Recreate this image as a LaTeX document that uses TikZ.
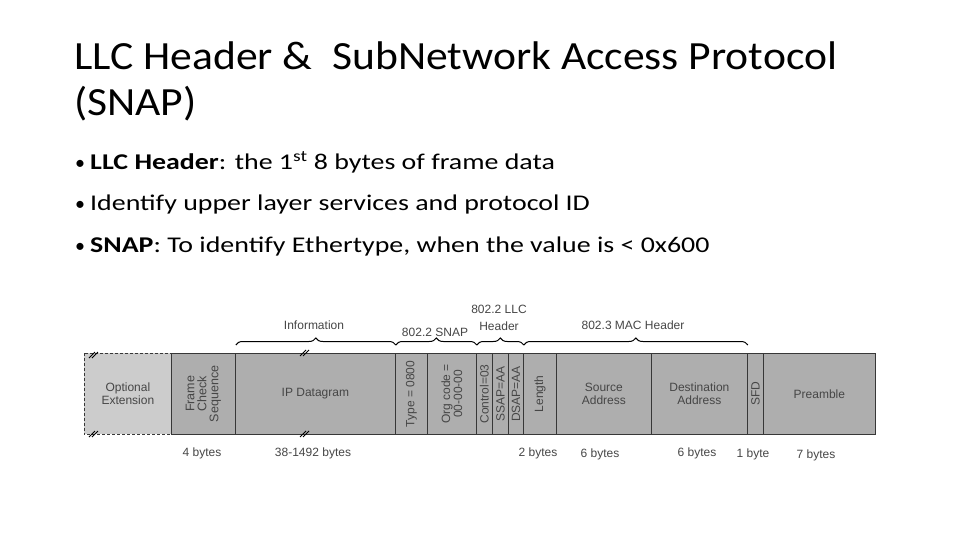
\documentclass[tikz,border=0pt]{standalone}
\usepackage{fontspec}
\setmainfont{Carlito}
\newfontfamily\titlefont[FakeStretch=1.09]{Carlito}
\newfontfamily\bodyfont[FakeStretch=1.24]{Carlito}
\newfontfamily\arialf{Liberation Sans}
\newcommand{\mybul}{\makebox[15pt][l]{\normalfont\fontsize{20}{20}\selectfont•}}
\usetikzlibrary{decorations.pathreplacing}
\definecolor{cellfill}{RGB}{174,174,174}
\definecolor{optfill}{RGB}{204,204,204}
\definecolor{dtext}{RGB}{70,70,70}
\definecolor{cline}{RGB}{55,55,55}
\tikzset{
  cell/.style={draw=cline, line width=0.8pt, fill=cellfill, minimum height=81pt, inner sep=0pt, anchor=north west, text=dtext, font=\arialf\fontsize{12}{12.5}\selectfont, align=center},
  optcell/.style={cell, fill=optfill, draw=none},
  rot/.style={rotate=90},
  dlabel/.style={text=dtext, font=\arialf\fontsize{12}{13}\selectfont, align=center, inner sep=0pt},
  bytelabel/.style={dlabel, anchor=base},
  toplabel/.style={dlabel, anchor=base, font=\arialf\fontsize{12}{17}\selectfont},
  bracemark/.style={draw=black, line width=1pt, decorate, decoration={brace, amplitude=7pt}},
  brk/.style={draw=black, line width=0.8pt},
}
\begin{document}
\begin{tikzpicture}[x=1pt,y=-1pt]
\useasboundingbox[fill=white] (0,0) rectangle (960,540);
% title
\node[anchor=base west, inner sep=0pt, align=left, font=\titlefont\fontsize{40}{46}\selectfont] (title) at (74,116)
  {LLC Header \&\ \ SubNetwork Access Protocol\\(SNAP)};
% bullets
\node[anchor=base west, inner sep=0pt, align=left, font=\bodyfont\fontsize{22.5}{41.5}\selectfont] (body) at (75,252)
  {\mybul\textbf{LLC Header}: the 1\textsuperscript{st} 8 bytes of frame data\\
   \mybul Identify upper layer services and protocol ID\\
   \mybul\textbf{SNAP}: To identify Ethertype, when the value is < 0x600};
% cells
\node[optcell, minimum width=87pt] (opt) at (84,353) {Optional\\Extension};
\node[cell, minimum width=64pt] (fcs) at (171,353) {};
\node[dlabel, rot, font=\arialf\fontsize{12.5}{12}\selectfont] at (fcs.center) {Frame\\Check\\Sequence};
\node[cell, minimum width=160pt] (ip) at (235,353) {IP Datagram};
\node[cell, minimum width=32pt] (type) at (395,353) {};
\node[dlabel, rot] at (type.center) {Type = 0800};
\node[cell, minimum width=49pt] (org) at (427,353) {};
\node[dlabel, rot, font=\arialf\fontsize{12}{12}\selectfont] at (org.center) {Org code =\\00-00-00};
\node[cell, minimum width=16pt] (ctrl) at (476,353) {};
\node[dlabel, rot] at (ctrl.center) {Control=03};
\node[cell, minimum width=16pt] (ssap) at (492,353) {};
\node[dlabel, rot] at (ssap.center) {SSAP=AA};
\node[cell, minimum width=15pt] (dsap) at (508,353) {};
\node[dlabel, rot] at (dsap.center) {DSAP=AA};
\node[cell, minimum width=33pt] (len) at (523,353) {};
\node[dlabel, rot] at (len.center) {Length};
\node[cell, minimum width=95pt] (src) at (556,353) {Source\\Address};
\node[cell, minimum width=96pt] (dst) at (651,353) {Destination\\Address};
\node[cell, minimum width=16pt] (sfd) at (747,353) {};
\node[dlabel, rot] at (sfd.center) {SFD};
\node[cell, minimum width=112pt] (pre) at (763,353) {Preamble};
% dashed border of optional extension
\draw[cline, line width=0.8pt, dash pattern=on 3pt off 2pt] (opt.north west) rectangle (opt.south east);
% braces
\draw[bracemark] ([yshift=8pt]fcs.north east) -- ([yshift=8pt]ip.north east);
\draw[bracemark] ([yshift=8pt]ip.north east) -- ([yshift=8pt]org.north east);
\draw[bracemark] ([yshift=8pt]org.north east) -- ([yshift=8pt]dsap.north east);
\draw[bracemark] ([yshift=8pt]dsap.north east) -- ([yshift=8pt]dst.north east);
\node[toplabel] (infolab) at (314,329) {Information};
\node[toplabel] (snaplab) at (435,336) {802.2 SNAP};
\node[toplabel] (llclab) at (499,330) {802.2 LLC\\Header};
\node[toplabel] (maclab) at (633,329) {802.3 MAC Header};
% byte labels
\node[bytelabel] (b1) at (202,456) {4 bytes};
\node[bytelabel] (b2) at (313,456) {38-1492 bytes};
\node[bytelabel] (b3) at (538,456) {2 bytes};
\node[bytelabel] (b4) at (600,457) {6 bytes};
\node[bytelabel] (b5) at (697,456) {6 bytes};
\node[bytelabel] (b6) at (753,457) {1 byte};
\node[bytelabel] (b7) at (816,458) {7 bytes};
% break marks
\foreach \bx/\by in {94/355, 94/434, 305/353, 305/434} {
  \draw[brk] (\bx-5,\by+3) -- (\bx+1,\by-3);
  \draw[brk] (\bx-2,\by+3) -- (\bx+4,\by-3);
}
\end{tikzpicture}
\end{document}
